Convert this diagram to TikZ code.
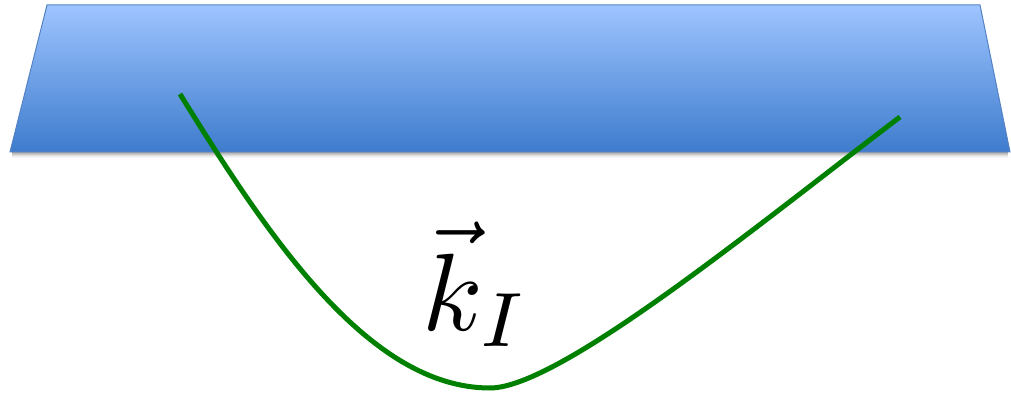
\documentclass[tikz,border=0pt]{standalone}
\definecolor{slabtop}{RGB}{158,196,255}
\definecolor{slabbot}{RGB}{62,124,205}
\definecolor{slabedge}{RGB}{84,130,196}
\definecolor{curvegreen}{RGB}{0,128,0}
\tikzset{
  slabfill/.style={top color=slabtop, bottom color=slabbot},
  slabline/.style={draw=slabedge, line width=1pt, line join=miter},
  greencurve/.style={draw=curvegreen, line width=5pt},
  klabel/.style={inner sep=0pt, scale=11}
}
\begin{document}
\begin{tikzpicture}[x=1pt,y=-1pt]
\useasboundingbox (0,0) rectangle (1011,395);
% shadow under the slab
\foreach \i/\o in {1/0.35,2/0.28,3/0.2,4/0.13,5/0.07,6/0.03}{
  \fill[black, opacity=\o] (12,152+\i-1) rectangle (1008,152+\i);
}
\coordinate (tl) at (47,5);
\coordinate (tr) at (980,5);
\coordinate (br) at (1010,152);
\coordinate (bl) at (10,152);
\shade[slabfill] (tl) -- (tr) -- (br) -- (bl) -- cycle;
\draw[slabline] (tl) -- (tr) -- (br) -- (bl) -- cycle;
\coordinate (cs) at (180,94);
\coordinate (cm) at (490,388);
\coordinate (ce) at (900,117);
\draw[greencurve] (cs) .. controls (270,240) and (370,388) .. (cm)
   .. controls (560,388) and (760,223) .. (ce);
\node[klabel, anchor=base west] (k) at (420,330) {$\vec{k}_I$};
\end{tikzpicture}
\end{document}
